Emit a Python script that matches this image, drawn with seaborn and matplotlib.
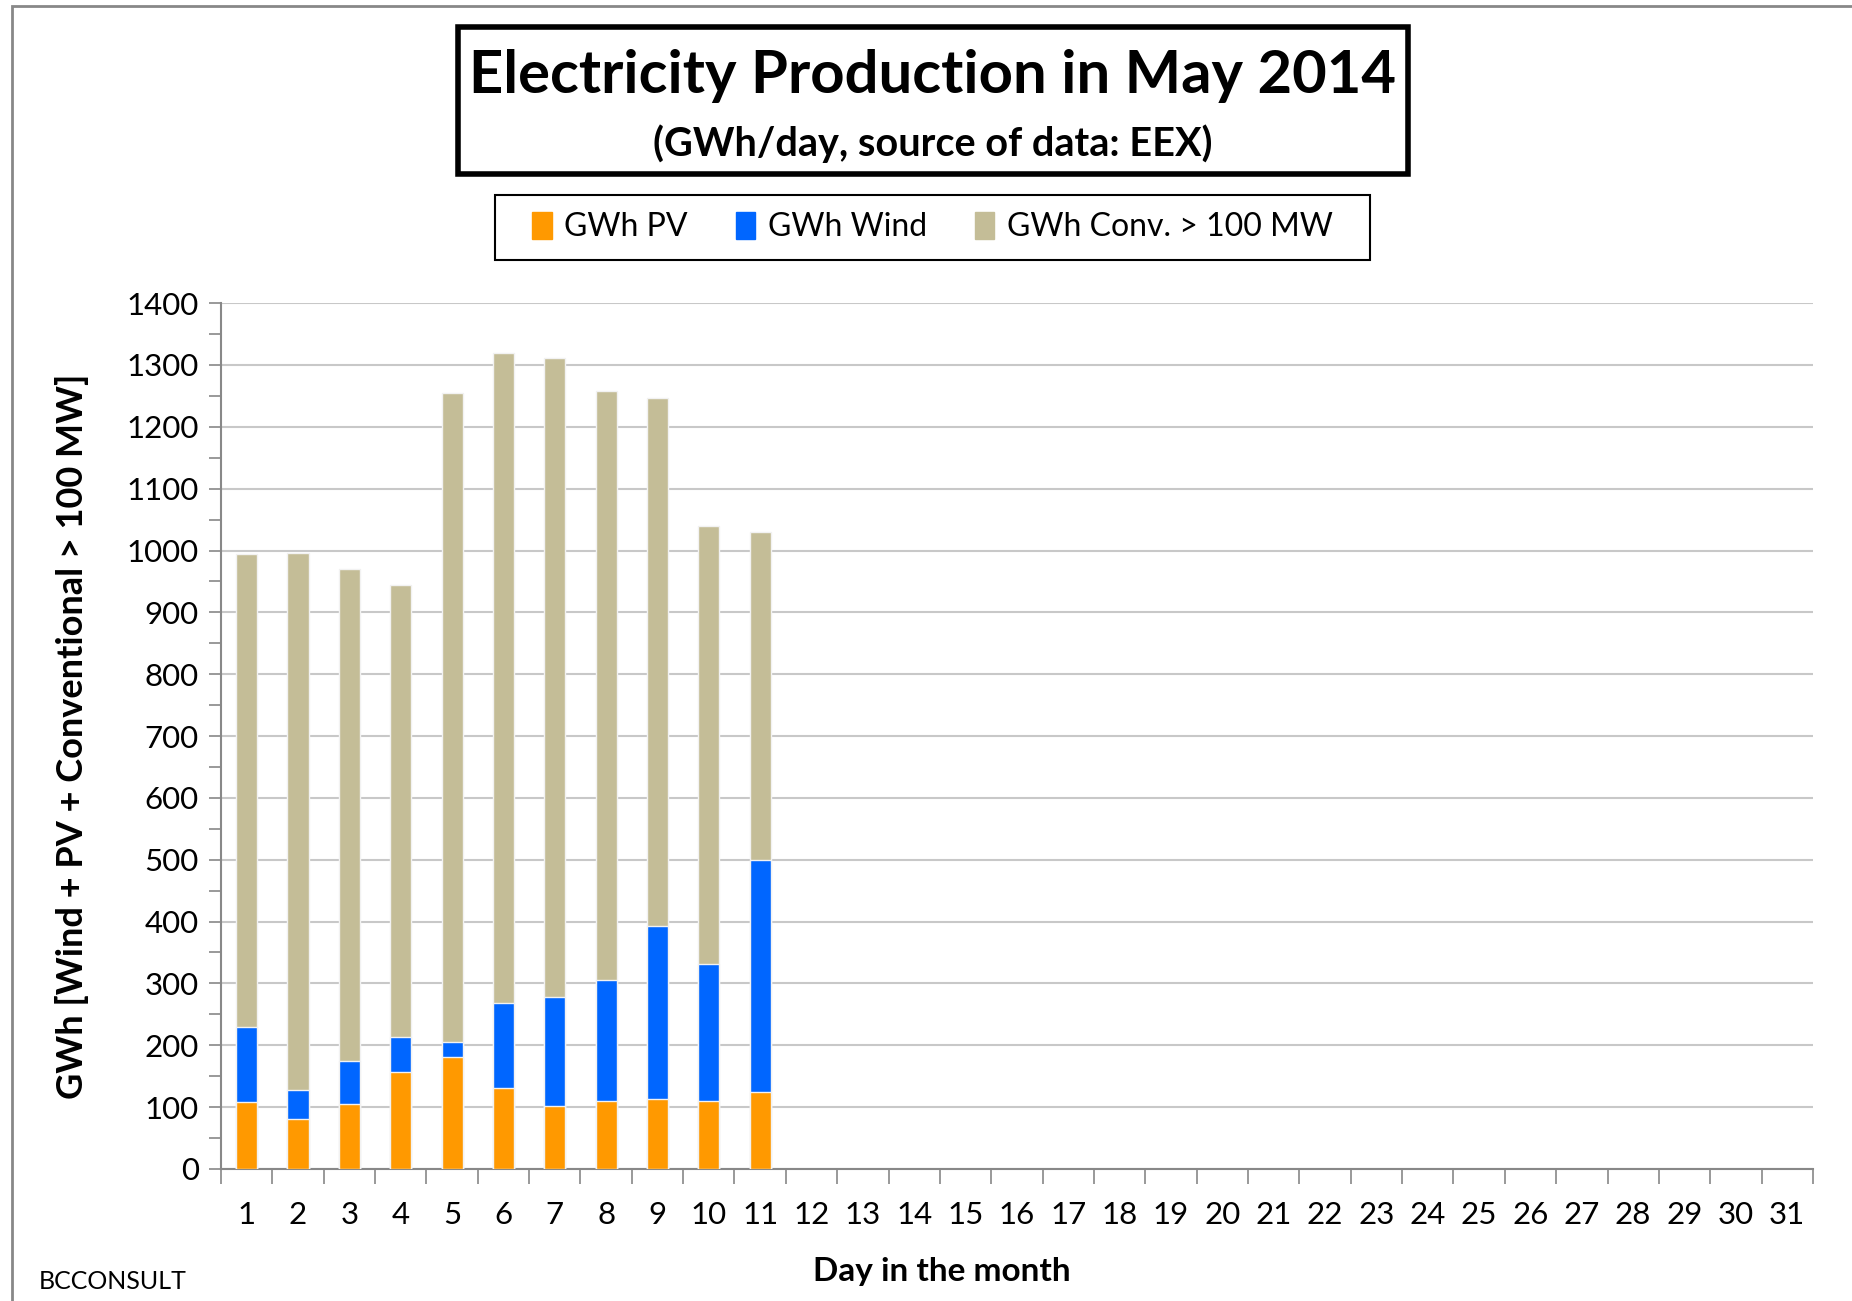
import numpy as np
import pandas as pd
import seaborn as sns
import matplotlib.pyplot as plt
from matplotlib.patches import Rectangle
from matplotlib.ticker import FixedLocator, MultipleLocator

# data (GWh/day, May 2014, days 1-11)
days = [str(d) for d in range(1, 32)]
pv = [108, 80, 105, 156, 181, 131, 102, 110, 113, 110, 125]
wind = [121, 48, 69, 57, 25, 138, 176, 195, 280, 221, 375]
conv = [766, 868, 796, 732, 1049, 1051, 1034, 953, 854, 709, 530]

col_pv = '#FF9900'
col_wind = '#0066FF'
col_conv = '#C4BD97'

df = pd.DataFrame({'day': days[:len(pv)], 'pv': pv, 'wind': wind, 'conv': conv})
df['pv_wind'] = df['pv'] + df['wind']
df['total'] = df['pv_wind'] + df['conv']

sns.set_style('white')
plt.rcParams['font.family'] = ['Lato', 'DejaVu Sans']
plt.rcParams['text.color'] = 'black'

fig = plt.figure(figsize=(18.52, 13.01), dpi=100)
ax = fig.add_axes([0.1193, 0.1015, 0.8596, 0.6655])

# stacked bars: draw the cumulative heights from top to bottom
kw = dict(order=days, errorbar=None, width=0.41, edgecolor='#f2f2f2', linewidth=1, ax=ax, zorder=3)
sns.barplot(data=df, x='day', y='total', color=col_conv, saturation=1, **kw)
sns.barplot(data=df, x='day', y='pv_wind', color=col_wind, saturation=1, **kw)
sns.barplot(data=df, x='day', y='pv', color=col_pv, saturation=1, **kw)

ax.set_xlim(-0.5, 30.5)
ax.set_ylim(0, 1400)

# y axis
ax.yaxis.set_major_locator(MultipleLocator(100))
ax.yaxis.set_minor_locator(MultipleLocator(50))
ax.tick_params(axis='y', which='both', direction='out', length=9, width=1.2,
               color='#888888', labelsize=22.5, labelcolor='black', pad=7, left=True)
ax.grid(axis='y', which='major', color='#c8c8c8', lw=1.5, zorder=0)
ax.set_axisbelow(True)

# x axis: ticks on category boundaries, labels at centres
ax.xaxis.set_major_locator(FixedLocator(np.arange(-0.5, 31, 1)))
ax.xaxis.set_minor_locator(FixedLocator(np.arange(0, 31)))
ax.set_xticklabels([])
ax.set_xticklabels(days, minor=True)
ax.tick_params(axis='x', which='major', direction='out', length=11, width=1.2,
               color='#888888', bottom=True)
ax.tick_params(axis='x', which='minor', length=0, labelsize=22.5, labelcolor='black', pad=23)

for s in ['top', 'right']:
    ax.spines[s].set_visible(False)
for s in ['left', 'bottom']:
    ax.spines[s].set_color('#888888')
    ax.spines[s].set_linewidth(1.5)

ax.set_xlabel('')
ax.set_ylabel('GWh [Wind + PV + Conventional > 100 MW]', fontsize=26,
              fontweight='bold', labelpad=27, color='black')
fig.text(0.5085, 0.0225, 'Day in the month', ha='center', va='center',
         fontsize=24, fontweight='bold')

# outer frame (top and left visible)
fig.patches.append(Rectangle((0.0065, -0.1), 1.2, 1.0954, transform=fig.transFigure,
                             fill=False, edgecolor='#888888', lw=2))

# title box
fig.patches.append(Rectangle((0.2475, 0.8665), 0.5125, 0.1125, transform=fig.transFigure,
                             fill=False, edgecolor='black', lw=4))
fig.text(0.5035, 0.9415, 'Electricity Production in May 2014', ha='center', va='center',
         fontsize=43, fontweight='bold')
fig.text(0.5035, 0.8895, '(GWh/day, source of data: EEX)', ha='center', va='center',
         fontsize=28.5, fontweight='bold')

# legend (frame drawn separately)
fig.patches.append(Rectangle((0.2673, 0.8002), 0.4724, 0.0499, transform=fig.transFigure,
                             fill=False, edgecolor='black', lw=1.5))
handles = [Rectangle((0, 0), 1, 1, color=c) for c in (col_pv, col_wind, col_conv)]
leg = fig.legend(handles, ['GWh PV', 'GWh Wind', 'GWh Conv. > 100 MW'], ncol=3,
                 loc='center', bbox_to_anchor=(0.5035, 0.8253), fontsize=23,
                 frameon=False, handlelength=0.6, handleheight=0.9,
                 handletextpad=0.4, columnspacing=1.5)

fig.text(0.021, 0.006, 'BCCONSULT', fontsize=18, ha='left', va='bottom')

fig.savefig('out.png', dpi=100)
